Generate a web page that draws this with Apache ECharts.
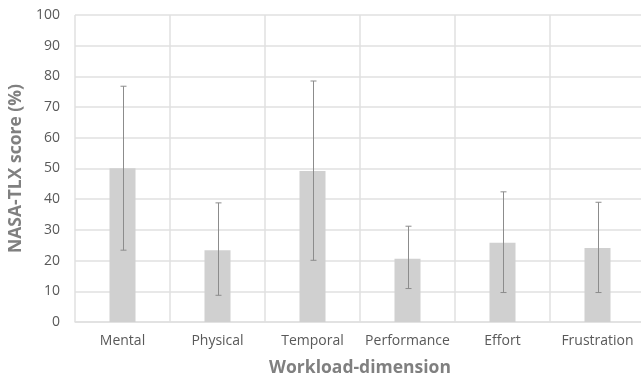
<!DOCTYPE html>
<html>
<head>
<meta charset="utf-8">
<style>
  html, body { margin: 0; padding: 0; background: #fff; }
  #chart { width: 641px; height: 376px; }
</style>
<script src="https://cdn.jsdelivr.net/npm/echarts@6/dist/echarts.min.js"></script>
</head>
<body>
<div id="chart"></div>
<script>
var categories = ['Mental', 'Physical', 'Temporal', 'Performance', 'Effort', 'Frustration'];
var meanScores = [50.1, 23.4, 49.2, 20.6, 25.8, 24.1];
var errLow = [23.4, 8.7, 20.1, 10.9, 9.6, 9.6];
var errHigh = [76.8, 38.8, 78.5, 31.2, 42.4, 39.0];
var yTicks = [0, 10, 20, 30, 40, 50, 60, 70, 80, 90, 100];

(function() {
  var chartEl = document.getElementById('chart');
  var font = '"Open Sans", "Noto Sans", sans-serif';
  var grid = '#e0e0e0';
  var labelColor = '#595959';

  var errData = categories.map(function(c, i) {
    return [i, errLow[i], errHigh[i]];
  });

  var chart = echarts.init(chartEl, null, { renderer: 'canvas' });
  chart.setOption({
    animation: false,
    backgroundColor: '#fff',
    textStyle: { fontFamily: font },
    grid: { left: 75, top: 15, width: 570, height: 307, outerBoundsMode: 'none', containLabel: false },
    xAxis: {
      type: 'category',
      data: categories,
      boundaryGap: true,
      name: 'Workload-dimension',
      nameLocation: 'middle',
      nameGap: 37,
      nameTextStyle: { fontSize: 17.5, fontWeight: 'bold', color: '#808080', fontFamily: font },
      axisLine: { lineStyle: { color: grid, width: 1.5 } },
      axisTick: { show: false },
      axisLabel: { interval: 0, color: labelColor, fontSize: 14, margin: 12, fontFamily: font },
      splitLine: { show: true, interval: 0, lineStyle: { color: grid, width: 1.5 } }
    },
    yAxis: {
      type: 'value',
      min: 0,
      max: yTicks[yTicks.length - 1],
      interval: yTicks[1] - yTicks[0],
      name: 'NASA-TLX score (%)',
      nameLocation: 'middle',
      nameGap: 44,
      nameTextStyle: { fontSize: 17.5, fontWeight: 'bold', color: '#808080', fontFamily: font },
      axisLine: { show: false },
      axisTick: { show: false },
      axisLabel: { color: labelColor, fontSize: 14, margin: 15, fontFamily: font },
      splitLine: { lineStyle: { color: grid, width: 1.5 } }
    },
    series: [
      {
        type: 'bar',
        data: meanScores,
        barWidth: 26,
        itemStyle: { color: '#d0d0d0' }
      },
      {
        type: 'custom',
        data: errData,
        z: 10,
        renderItem: function(params, api) {
          var x = api.value(0);
          var lo = api.coord([x, api.value(1)]);
          var hi = api.coord([x, api.value(2)]);
          var cx = Math.round(lo[0]) + 0.5;
          var half = 3;
          var st = { stroke: '#8c8c8c', lineWidth: 1 };
          return {
            type: 'group',
            children: [
              { type: 'line', shape: { x1: cx, y1: hi[1], x2: cx, y2: lo[1] }, style: st },
              { type: 'line', shape: { x1: cx - half, y1: hi[1], x2: cx + half, y2: hi[1] }, style: st },
              { type: 'line', shape: { x1: cx - half, y1: lo[1], x2: cx + half, y2: lo[1] }, style: st }
            ]
          };
        }
      }
    ]
  });

  window.addEventListener('resize', function() {
    chart.resize();
  });
})();
</script>
</body>
</html>
